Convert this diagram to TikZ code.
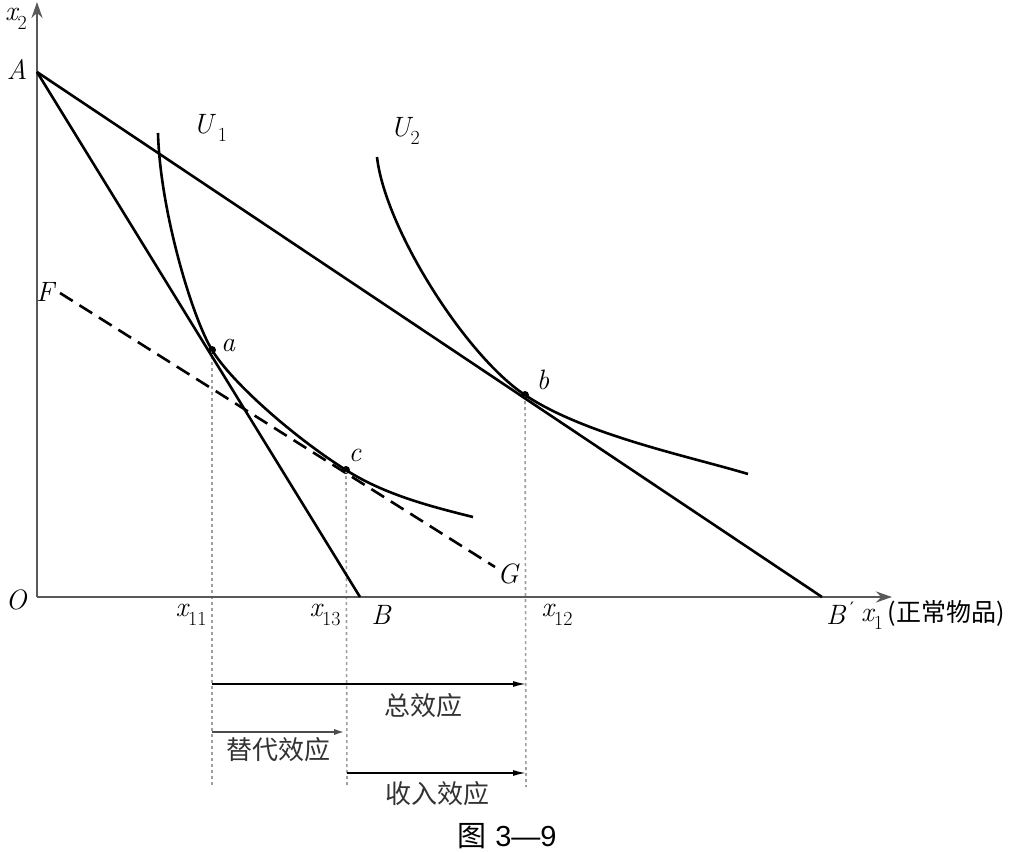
\documentclass[tikz,border=0pt]{standalone}
\usepackage{fontspec}
\newfontfamily\cjk{Noto Sans CJK SC}
\newfontfamily\lsans{Liberation Sans}
\newfontfamily\djv{DejaVu Sans}
\newcommand\mysub[1]{\raisebox{-0.3em}{\fontsize{20}{20}\selectfont\upshape #1}}
\usetikzlibrary{arrows.meta}
\begin{document}
\begin{tikzpicture}[x=1pt,y=-1pt,
  curve/.style={line width=2.6pt,black},
  axis/.style={line width=2.6pt,gray!70!black,-{Stealth[length=16pt,width=11pt]}},
  guide/.style={gray!75,line width=1.6pt,dash pattern=on 3pt off 3pt},
  effarrow/.style={line width=1.6pt,-{Latex[length=13pt,width=6pt]}},
  lbl/.style={inner sep=0pt,font=\itshape\fontsize{28}{30}\selectfont},
  zh/.style={inner sep=0pt,font=\cjk\fontsize{26}{28}\selectfont,text=gray!40!black},
  dotn/.style={circle,fill=black,inner sep=0pt,minimum size=8pt}
]
\useasboundingbox (0,0) rectangle (1025,853);
% key points
\coordinate (O) at (37,597);
\coordinate (Ytop) at (37,2);
\coordinate (Xend) at (892,597);
\coordinate (A) at (37,72);
\coordinate (B) at (360,597);
\coordinate (Bp) at (822,597);
\coordinate (F) at (60,293);
\coordinate (G) at (495,567);
\coordinate (U1s) at (158,133);
\coordinate (U1e) at (473,517);
\coordinate (U2s) at (377,157);
\coordinate (U2e) at (748,474);
\node[dotn] (a) at (212,350) {};
\node[dotn] (b) at (525,395) {};
\node[dotn] (c) at (346,470) {};
% guide feet
\coordinate (a0) at (212,787);
\coordinate (c0) at (347,787);
\coordinate (b0) at (526,787);
\coordinate (t1) at (212,684);
\coordinate (t2) at (526,684);
\coordinate (s1) at (212,732);
\coordinate (s2) at (347,732);
\coordinate (i1) at (347,773);
\coordinate (i2) at (526,773);

% guides
\draw[guide] (a.center) -- (a0);
\draw[guide] (c.center) -- (c0);
\draw[guide] (b.center) -- (b0);

% axes
\draw[axis] (O) -- (Ytop);
\draw[axis] (O) -- (Xend);

% budget lines
\draw[curve] (A) -- (B);
\draw[curve] (A) -- (Bp);
\draw[curve,dash pattern=on 15pt off 8pt] (F) -- (G);

% indifference curves
\draw[curve] (U1s) .. controls (160,210) and (192,317) .. (a.center)
  .. controls (232,383) and (295,438) .. (c.center)
  .. controls (385,495) and (433,507) .. (U1e);
\draw[curve] (U2s) .. controls (385,228) and (465,355) .. (b.center)
  .. controls (585,435) and (688,456) .. (U2e);

% effect arrows
\draw[effarrow] (t1) -- (t2);
\draw[effarrow,line width=2.6pt,gray!60!black] (s1) -- (s2);
\draw[effarrow] (i1) -- (i2);

% labels
\node[lbl] (lx2) at (16,19) {x\mysub{2}};
\node[lbl] (lA) at (17,70) {A};
\node[lbl] (lU1) at (210,128) {U\,\mysub{1}};
\node[lbl] (lU2) at (405,131) {U\mysub{2}};
\node[lbl] (lF) at (45,292) {F};
\node[lbl] (la) at (228,345) {a};
\node[lbl] (lb) at (543,380) {b};
\node[lbl] (lc) at (355,455) {c};
\node[lbl] (lG) at (508,574) {G};
\node[lbl] (lO) at (16,600) {O};
\node[lbl] (lx11) at (191,615) {x\mysub{11}};
\node[lbl] (lx13) at (325,615) {x\mysub{13}};
\node[lbl] (lB) at (381,615) {B};
\node[lbl] (lx12) at (557,615) {x\mysub{12}};
\node[lbl] (lBp) at (840,613) {B\,\raisebox{0.35em}{\upshape\djv\fontsize{17}{17}\selectfont ′}};
\node[lbl,anchor=west] (lx1) at (861,615) {x\mysub{1}\,{\upshape\cjk\fontsize{25}{27}\selectfont (正常物品)}};
\node[zh] (ltot) at (423,706) {总效应};
\node[zh] (lsub) at (278,750) {替代效应};
\node[zh] (linc) at (437,794) {收入效应};
\node[inner sep=0pt,font=\fontsize{29}{31}\selectfont] (cap) at (507,836) {{\cjk 图}\ {\lsans 3—9}};
\end{tikzpicture}
\end{document}
